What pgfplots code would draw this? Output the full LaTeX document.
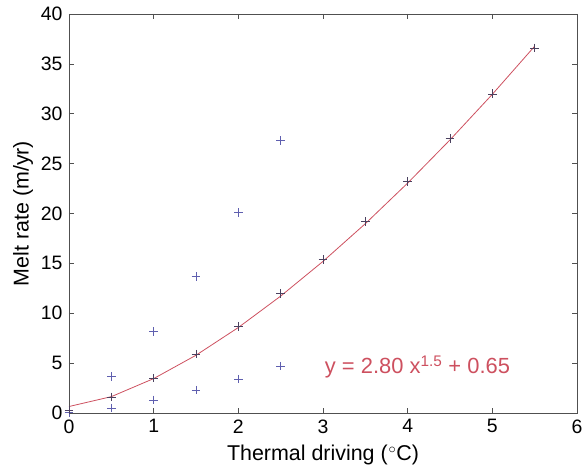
\documentclass[border=0pt]{standalone}
\usepackage{pgfplots}
\pgfplotsset{compat=1.18}
\usepackage{fontspec}
\setmainfont{Liberation Sans}
\definecolor{mblue}{RGB}{95,95,175}
\definecolor{mdark}{RGB}{75,65,95}
\definecolor{mred}{RGB}{205,80,95}
\definecolor{maxis}{RGB}{80,80,80}
\begin{document}
\fontsize{19}{23}\selectfont
\begin{tikzpicture}
\begin{axis}[
  scale only axis,
  width=508bp, height=399bp,
  xmin=0, xmax=6, ymin=0, ymax=40,
  xtick={0,1,2,3,4,5,6},
  ytick={0,5,10,15,20,25,30,35,40},
  tick align=inside,
  major tick length=5bp,
  tick style={maxis, line width=0.6pt},
  axis line style={maxis, line width=0.8pt},
  /pgf/number format/assume math mode=true,
  ticklabel style={font=\fontsize{19.5}{23}\selectfont},
  label style={font=\fontsize{21.5}{25}\selectfont},
  xlabel={Thermal driving (\kern1pt\textsuperscript{$\circ$}C)},
  ylabel={Melt rate (m/yr)},
  xlabel style={yshift=1bp},
  ylabel style={yshift=-5bp},
  clip=false,
]
\addplot[mred, line width=0.8pt] coordinates {
(0,0.65) (0.5,1.64) (1,3.45) (1.5,5.79) (2,8.57) (2.5,11.72) (3,15.20)
(3.5,18.98) (4,23.05) (4.5,27.38) (5,31.95) (5.5,36.77)};
\addplot[only marks, mark=+, mark size=4.3bp, mblue, mark options={line width=0.55pt}] coordinates {
(0,0.05) (0.5,3.65) (0.5,0.5) (1,8.15) (1,1.3) (1.5,13.7) (1.5,2.3)
(2,20.1) (2,3.4) (2.5,27.3) (2.5,4.7)};
\addplot[only marks, mark=+, mark size=4.3bp, mdark, mark options={line width=0.55pt}] coordinates {
(0,0.3) (0.5,1.6) (1,3.5) (1.5,5.9) (2,8.7) (2.5,12.0) (3,15.4)
(3.5,19.2) (4,23.2) (4.5,27.5) (5,32.0) (5.5,36.6)};
\node[anchor=west, text=mred, font=\fontsize{22}{26}\selectfont, inner sep=0pt] at (axis cs:3.02,4.6) {y = 2.80 x\textsuperscript{1.5} + 0.65};
\end{axis}
\pgfresetboundingbox
\path ([shift={(-69bp,-56bp)}]current axis.south west) rectangle ([shift={(10bp,14bp)}]current axis.north east);
\end{tikzpicture}
\end{document}
